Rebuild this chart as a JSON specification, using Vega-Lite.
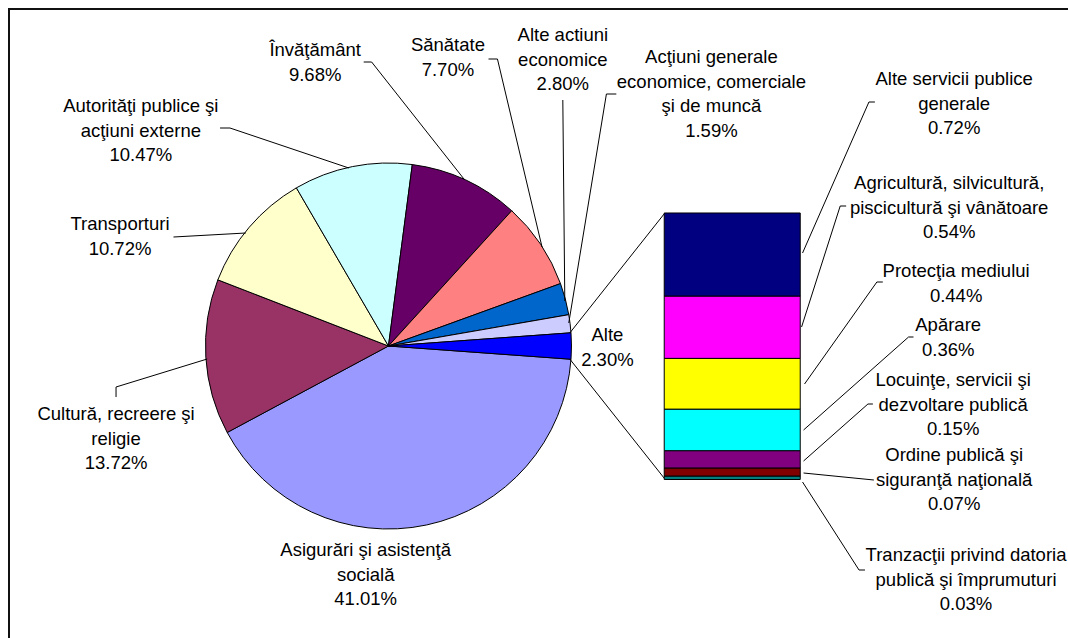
{
  "$schema": "https://vega.github.io/schema/vega-lite/v6.json",
  "width": 1070,
  "height": 640,
  "padding": {"left": 9, "top": 9, "right": 0, "bottom": 0},
  "background": "white",
  "config": {
    "view": {"stroke": "#111111", "strokeWidth": 2},
    "text": {"font": "Liberation Sans", "fontSize": 18.5, "lineHeight": 24.5, "lineBreak": "\n", "color": "#000000", "align": "center", "baseline": "middle"},
    "rule": {"color": "#000000", "strokeWidth": 1}
  },
  "datasets": {
    "pie": [
      {"i": 1, "cat": "Asigurări şi asistenţă\nsocială", "v": 41.01},
      {"i": 2, "cat": "Cultură, recreere şi\nreligie", "v": 13.72},
      {"i": 3, "cat": "Transporturi", "v": 10.72},
      {"i": 4, "cat": "Autorităţi publice şi\nacţiuni externe", "v": 10.47},
      {"i": 5, "cat": "Învăţământ", "v": 9.68},
      {"i": 6, "cat": "Sănătate", "v": 7.70},
      {"i": 7, "cat": "Alte actiuni\neconomice", "v": 2.80},
      {"i": 8, "cat": "Acţiuni generale\neconomice, comerciale\nşi de muncă", "v": 1.59},
      {"i": 9, "cat": "Alte", "v": 2.30}
    ],
    "bar": [
      {"i": 1, "cat": "Tranzacţii privind datoria\npublică şi împrumuturi", "v": 0.03},
      {"i": 2, "cat": "Ordine publică şi\nsiguranţă naţională", "v": 0.07},
      {"i": 3, "cat": "Locuinţe, servicii şi\ndezvoltare publică", "v": 0.15},
      {"i": 4, "cat": "Apărare", "v": 0.36},
      {"i": 5, "cat": "Protecţia mediului", "v": 0.44},
      {"i": 6, "cat": "Agricultură, silvicultură,\npiscicultură şi vânătoare", "v": 0.54},
      {"i": 7, "cat": "Alte servicii publice\ngenerale", "v": 0.72}
    ]
  },
  "resolve": {"scale": {"y": "independent", "color": "independent"}},
  "layer": [
    {
      "layer": [
        {
          "data": {"name": "pie"},
          "mark": {"type": "arc", "outerRadius": 183, "stroke": "#000000", "strokeWidth": 1},
          "encoding": {
            "theta": {"field": "v", "type": "quantitative", "stack": true, "scale": {"range": [1.6431, 7.9263]}},
            "order": {"field": "i", "type": "quantitative"},
            "color": {"field": "i", "type": "nominal", "legend": null, "scale": {"domain": [1, 2, 3, 4, 5, 6, 7, 8, 9], "range": ["#9999FF", "#993366", "#FFFFCC", "#CCFFFF", "#660066", "#FF8080", "#0066CC", "#CCCCFF", "#0000FF"]}},
            "x": {"datum": 387, "type": "quantitative", "scale": {"domain": [9, 1079], "nice": false, "zero": false}, "axis": null},
            "y": {"datum": 346, "type": "quantitative", "scale": {"domain": [9, 649], "nice": false, "zero": false, "reverse": true}, "axis": null}
          }
        },
        {"data": {"name": "pie"}, "transform": [{"filter": "datum.i == 1"}, {"calculate": "datum.cat + '\\n' + format(datum.v, '.2f') + '%'", "as": "label"}], "mark": {"type": "text"},
         "encoding": {"x": {"datum": 364, "type": "quantitative", "scale": {"domain": [9, 1079], "nice": false, "zero": false}, "axis": null}, "y": {"datum": 550, "type": "quantitative", "scale": {"domain": [9, 649], "nice": false, "zero": false, "reverse": true}, "axis": null}, "text": {"field": "label"}}},
        {"data": {"name": "pie"}, "transform": [{"filter": "datum.i == 2"}, {"calculate": "datum.cat + '\\n' + format(datum.v, '.2f') + '%'", "as": "label"}], "mark": {"type": "text"},
         "encoding": {"x": {"datum": 112, "type": "quantitative", "scale": {"domain": [9, 1079], "nice": false, "zero": false}, "axis": null}, "y": {"datum": 414, "type": "quantitative", "scale": {"domain": [9, 649], "nice": false, "zero": false, "reverse": true}, "axis": null}, "text": {"field": "label"}}},
        {"data": {"name": "pie"}, "transform": [{"filter": "datum.i == 3"}, {"calculate": "datum.cat + '\\n' + format(datum.v, '.2f') + '%'", "as": "label"}], "mark": {"type": "text"},
         "encoding": {"x": {"datum": 116, "type": "quantitative", "scale": {"domain": [9, 1079], "nice": false, "zero": false}, "axis": null}, "y": {"datum": 224, "type": "quantitative", "scale": {"domain": [9, 649], "nice": false, "zero": false, "reverse": true}, "axis": null}, "text": {"field": "label"}}},
        {"data": {"name": "pie"}, "transform": [{"filter": "datum.i == 4"}, {"calculate": "datum.cat + '\\n' + format(datum.v, '.2f') + '%'", "as": "label"}], "mark": {"type": "text"},
         "encoding": {"x": {"datum": 137, "type": "quantitative", "scale": {"domain": [9, 1079], "nice": false, "zero": false}, "axis": null}, "y": {"datum": 106, "type": "quantitative", "scale": {"domain": [9, 649], "nice": false, "zero": false, "reverse": true}, "axis": null}, "text": {"field": "label"}}},
        {"data": {"name": "pie"}, "transform": [{"filter": "datum.i == 5"}, {"calculate": "datum.cat + '\\n' + format(datum.v, '.2f') + '%'", "as": "label"}], "mark": {"type": "text"},
         "encoding": {"x": {"datum": 313, "type": "quantitative", "scale": {"domain": [9, 1079], "nice": false, "zero": false}, "axis": null}, "y": {"datum": 50, "type": "quantitative", "scale": {"domain": [9, 649], "nice": false, "zero": false, "reverse": true}, "axis": null}, "text": {"field": "label"}}},
        {"data": {"name": "pie"}, "transform": [{"filter": "datum.i == 6"}, {"calculate": "datum.cat + '\\n' + format(datum.v, '.2f') + '%'", "as": "label"}], "mark": {"type": "text"},
         "encoding": {"x": {"datum": 447, "type": "quantitative", "scale": {"domain": [9, 1079], "nice": false, "zero": false}, "axis": null}, "y": {"datum": 45, "type": "quantitative", "scale": {"domain": [9, 649], "nice": false, "zero": false, "reverse": true}, "axis": null}, "text": {"field": "label"}}},
        {"data": {"name": "pie"}, "transform": [{"filter": "datum.i == 7"}, {"calculate": "datum.cat + '\\n' + format(datum.v, '.2f') + '%'", "as": "label"}], "mark": {"type": "text"},
         "encoding": {"x": {"datum": 563, "type": "quantitative", "scale": {"domain": [9, 1079], "nice": false, "zero": false}, "axis": null}, "y": {"datum": 35, "type": "quantitative", "scale": {"domain": [9, 649], "nice": false, "zero": false, "reverse": true}, "axis": null}, "text": {"field": "label"}}},
        {"data": {"name": "pie"}, "transform": [{"filter": "datum.i == 8"}, {"calculate": "datum.cat + '\\n' + format(datum.v, '.2f') + '%'", "as": "label"}], "mark": {"type": "text"},
         "encoding": {"x": {"datum": 713, "type": "quantitative", "scale": {"domain": [9, 1079], "nice": false, "zero": false}, "axis": null}, "y": {"datum": 57, "type": "quantitative", "scale": {"domain": [9, 649], "nice": false, "zero": false, "reverse": true}, "axis": null}, "text": {"field": "label"}}},
        {"data": {"name": "pie"}, "transform": [{"filter": "datum.i == 9"}, {"calculate": "datum.cat + '\\n' + format(datum.v, '.2f') + '%'", "as": "label"}], "mark": {"type": "text"},
         "encoding": {"x": {"datum": 608, "type": "quantitative", "scale": {"domain": [9, 1079], "nice": false, "zero": false}, "axis": null}, "y": {"datum": 335, "type": "quantitative", "scale": {"domain": [9, 649], "nice": false, "zero": false, "reverse": true}, "axis": null}, "text": {"field": "label"}}},

        {"data": {"name": "bar"}, "transform": [{"filter": "datum.i == 7"}, {"calculate": "datum.cat + '\\n' + format(datum.v, '.2f') + '%'", "as": "label"}], "mark": {"type": "text"},
         "encoding": {"x": {"datum": 958, "type": "quantitative", "scale": {"domain": [9, 1079], "nice": false, "zero": false}, "axis": null}, "y": {"datum": 79, "type": "quantitative", "scale": {"domain": [9, 649], "nice": false, "zero": false, "reverse": true}, "axis": null}, "text": {"field": "label"}}},
        {"data": {"name": "bar"}, "transform": [{"filter": "datum.i == 6"}, {"calculate": "datum.cat + '\\n' + format(datum.v, '.2f') + '%'", "as": "label"}], "mark": {"type": "text"},
         "encoding": {"x": {"datum": 953, "type": "quantitative", "scale": {"domain": [9, 1079], "nice": false, "zero": false}, "axis": null}, "y": {"datum": 183, "type": "quantitative", "scale": {"domain": [9, 649], "nice": false, "zero": false, "reverse": true}, "axis": null}, "text": {"field": "label"}}},
        {"data": {"name": "bar"}, "transform": [{"filter": "datum.i == 5"}, {"calculate": "datum.cat + '\\n' + format(datum.v, '.2f') + '%'", "as": "label"}], "mark": {"type": "text"},
         "encoding": {"x": {"datum": 960, "type": "quantitative", "scale": {"domain": [9, 1079], "nice": false, "zero": false}, "axis": null}, "y": {"datum": 271, "type": "quantitative", "scale": {"domain": [9, 649], "nice": false, "zero": false, "reverse": true}, "axis": null}, "text": {"field": "label"}}},
        {"data": {"name": "bar"}, "transform": [{"filter": "datum.i == 4"}, {"calculate": "datum.cat + '\\n' + format(datum.v, '.2f') + '%'", "as": "label"}], "mark": {"type": "text"},
         "encoding": {"x": {"datum": 952, "type": "quantitative", "scale": {"domain": [9, 1079], "nice": false, "zero": false}, "axis": null}, "y": {"datum": 325, "type": "quantitative", "scale": {"domain": [9, 649], "nice": false, "zero": false, "reverse": true}, "axis": null}, "text": {"field": "label"}}},
        {"data": {"name": "bar"}, "transform": [{"filter": "datum.i == 3"}, {"calculate": "datum.cat + '\\n' + format(datum.v, '.2f') + '%'", "as": "label"}], "mark": {"type": "text"},
         "encoding": {"x": {"datum": 957, "type": "quantitative", "scale": {"domain": [9, 1079], "nice": false, "zero": false}, "axis": null}, "y": {"datum": 380, "type": "quantitative", "scale": {"domain": [9, 649], "nice": false, "zero": false, "reverse": true}, "axis": null}, "text": {"field": "label"}}},
        {"data": {"name": "bar"}, "transform": [{"filter": "datum.i == 2"}, {"calculate": "datum.cat + '\\n' + format(datum.v, '.2f') + '%'", "as": "label"}], "mark": {"type": "text"},
         "encoding": {"x": {"datum": 958, "type": "quantitative", "scale": {"domain": [9, 1079], "nice": false, "zero": false}, "axis": null}, "y": {"datum": 455, "type": "quantitative", "scale": {"domain": [9, 649], "nice": false, "zero": false, "reverse": true}, "axis": null}, "text": {"field": "label"}}},
        {"data": {"name": "bar"}, "transform": [{"filter": "datum.i == 1"}, {"calculate": "datum.cat + '\\n' + format(datum.v, '.2f') + '%'", "as": "label"}], "mark": {"type": "text"},
         "encoding": {"x": {"datum": 970, "type": "quantitative", "scale": {"domain": [9, 1079], "nice": false, "zero": false}, "axis": null}, "y": {"datum": 555, "type": "quantitative", "scale": {"domain": [9, 649], "nice": false, "zero": false, "reverse": true}, "axis": null}, "text": {"field": "label"}}},

        {"data": {"name": "pie"}, "transform": [{"filter": "datum.i == 5"}], "mark": {"type": "rule"}, "encoding": {"x": {"datum": 362, "type": "quantitative", "scale": {"domain": [9, 1079], "nice": false, "zero": false}, "axis": null}, "y": {"datum": 62, "type": "quantitative", "scale": {"domain": [9, 649], "nice": false, "zero": false, "reverse": true}, "axis": null}, "x2": {"datum": 370}, "y2": {"datum": 62}}},
        {"data": {"name": "pie"}, "transform": [{"filter": "datum.i == 5"}], "mark": {"type": "rule"}, "encoding": {"x": {"datum": 370, "type": "quantitative", "scale": {"domain": [9, 1079], "nice": false, "zero": false}, "axis": null}, "y": {"datum": 62, "type": "quantitative", "scale": {"domain": [9, 649], "nice": false, "zero": false, "reverse": true}, "axis": null}, "x2": {"datum": 464}, "y2": {"datum": 180}}},
        {"data": {"name": "pie"}, "transform": [{"filter": "datum.i == 4"}], "mark": {"type": "rule"}, "encoding": {"x": {"datum": 217, "type": "quantitative", "scale": {"domain": [9, 1079], "nice": false, "zero": false}, "axis": null}, "y": {"datum": 128, "type": "quantitative", "scale": {"domain": [9, 649], "nice": false, "zero": false, "reverse": true}, "axis": null}, "x2": {"datum": 227}, "y2": {"datum": 128}}},
        {"data": {"name": "pie"}, "transform": [{"filter": "datum.i == 4"}], "mark": {"type": "rule"}, "encoding": {"x": {"datum": 227, "type": "quantitative", "scale": {"domain": [9, 1079], "nice": false, "zero": false}, "axis": null}, "y": {"datum": 128, "type": "quantitative", "scale": {"domain": [9, 649], "nice": false, "zero": false, "reverse": true}, "axis": null}, "x2": {"datum": 347}, "y2": {"datum": 168}}},
        {"data": {"name": "pie"}, "transform": [{"filter": "datum.i == 3"}], "mark": {"type": "rule"}, "encoding": {"x": {"datum": 170, "type": "quantitative", "scale": {"domain": [9, 1079], "nice": false, "zero": false}, "axis": null}, "y": {"datum": 237, "type": "quantitative", "scale": {"domain": [9, 649], "nice": false, "zero": false, "reverse": true}, "axis": null}, "x2": {"datum": 243}, "y2": {"datum": 233}}},
        {"data": {"name": "pie"}, "transform": [{"filter": "datum.i == 2"}], "mark": {"type": "rule"}, "encoding": {"x": {"datum": 112, "type": "quantitative", "scale": {"domain": [9, 1079], "nice": false, "zero": false}, "axis": null}, "y": {"datum": 397, "type": "quantitative", "scale": {"domain": [9, 649], "nice": false, "zero": false, "reverse": true}, "axis": null}, "x2": {"datum": 112}, "y2": {"datum": 387}}},
        {"data": {"name": "pie"}, "transform": [{"filter": "datum.i == 2"}], "mark": {"type": "rule"}, "encoding": {"x": {"datum": 112, "type": "quantitative", "scale": {"domain": [9, 1079], "nice": false, "zero": false}, "axis": null}, "y": {"datum": 387, "type": "quantitative", "scale": {"domain": [9, 649], "nice": false, "zero": false, "reverse": true}, "axis": null}, "x2": {"datum": 204}, "y2": {"datum": 359}}},
        {"data": {"name": "pie"}, "transform": [{"filter": "datum.i == 6"}], "mark": {"type": "rule"}, "encoding": {"x": {"datum": 488, "type": "quantitative", "scale": {"domain": [9, 1079], "nice": false, "zero": false}, "axis": null}, "y": {"datum": 59, "type": "quantitative", "scale": {"domain": [9, 649], "nice": false, "zero": false, "reverse": true}, "axis": null}, "x2": {"datum": 497}, "y2": {"datum": 59}}},
        {"data": {"name": "pie"}, "transform": [{"filter": "datum.i == 6"}], "mark": {"type": "rule"}, "encoding": {"x": {"datum": 497, "type": "quantitative", "scale": {"domain": [9, 1079], "nice": false, "zero": false}, "axis": null}, "y": {"datum": 59, "type": "quantitative", "scale": {"domain": [9, 649], "nice": false, "zero": false, "reverse": true}, "axis": null}, "x2": {"datum": 542}, "y2": {"datum": 247}}},
        {"data": {"name": "pie"}, "transform": [{"filter": "datum.i == 7"}], "mark": {"type": "rule"}, "encoding": {"x": {"datum": 563, "type": "quantitative", "scale": {"domain": [9, 1079], "nice": false, "zero": false}, "axis": null}, "y": {"datum": 100, "type": "quantitative", "scale": {"domain": [9, 649], "nice": false, "zero": false, "reverse": true}, "axis": null}, "x2": {"datum": 565}, "y2": {"datum": 301}}},
        {"data": {"name": "pie"}, "transform": [{"filter": "datum.i == 8"}], "mark": {"type": "rule"}, "encoding": {"x": {"datum": 617, "type": "quantitative", "scale": {"domain": [9, 1079], "nice": false, "zero": false}, "axis": null}, "y": {"datum": 94, "type": "quantitative", "scale": {"domain": [9, 649], "nice": false, "zero": false, "reverse": true}, "axis": null}, "x2": {"datum": 607}, "y2": {"datum": 94}}},
        {"data": {"name": "pie"}, "transform": [{"filter": "datum.i == 8"}], "mark": {"type": "rule"}, "encoding": {"x": {"datum": 607, "type": "quantitative", "scale": {"domain": [9, 1079], "nice": false, "zero": false}, "axis": null}, "y": {"datum": 94, "type": "quantitative", "scale": {"domain": [9, 649], "nice": false, "zero": false, "reverse": true}, "axis": null}, "x2": {"datum": 569}, "y2": {"datum": 323}}},
        {"data": {"name": "pie"}, "transform": [{"filter": "datum.i == 9"}], "mark": {"type": "rule"}, "encoding": {"x": {"datum": 570, "type": "quantitative", "scale": {"domain": [9, 1079], "nice": false, "zero": false}, "axis": null}, "y": {"datum": 333, "type": "quantitative", "scale": {"domain": [9, 649], "nice": false, "zero": false, "reverse": true}, "axis": null}, "x2": {"datum": 666}, "y2": {"datum": 213}}},
        {"data": {"name": "pie"}, "transform": [{"filter": "datum.i == 9"}], "mark": {"type": "rule"}, "encoding": {"x": {"datum": 570, "type": "quantitative", "scale": {"domain": [9, 1079], "nice": false, "zero": false}, "axis": null}, "y": {"datum": 359, "type": "quantitative", "scale": {"domain": [9, 649], "nice": false, "zero": false, "reverse": true}, "axis": null}, "x2": {"datum": 666}, "y2": {"datum": 479}}},

        {"data": {"name": "bar"}, "transform": [{"filter": "datum.i == 7"}], "mark": {"type": "rule"}, "encoding": {"x": {"datum": 872, "type": "quantitative", "scale": {"domain": [9, 1079], "nice": false, "zero": false}, "axis": null}, "y": {"datum": 102, "type": "quantitative", "scale": {"domain": [9, 649], "nice": false, "zero": false, "reverse": true}, "axis": null}, "x2": {"datum": 878}, "y2": {"datum": 102}}},
        {"data": {"name": "bar"}, "transform": [{"filter": "datum.i == 7"}], "mark": {"type": "rule"}, "encoding": {"x": {"datum": 872, "type": "quantitative", "scale": {"domain": [9, 1079], "nice": false, "zero": false}, "axis": null}, "y": {"datum": 102, "type": "quantitative", "scale": {"domain": [9, 649], "nice": false, "zero": false, "reverse": true}, "axis": null}, "x2": {"datum": 805}, "y2": {"datum": 253}}},
        {"data": {"name": "bar"}, "transform": [{"filter": "datum.i == 6"}], "mark": {"type": "rule"}, "encoding": {"x": {"datum": 843, "type": "quantitative", "scale": {"domain": [9, 1079], "nice": false, "zero": false}, "axis": null}, "y": {"datum": 206, "type": "quantitative", "scale": {"domain": [9, 649], "nice": false, "zero": false, "reverse": true}, "axis": null}, "x2": {"datum": 849}, "y2": {"datum": 206}}},
        {"data": {"name": "bar"}, "transform": [{"filter": "datum.i == 6"}], "mark": {"type": "rule"}, "encoding": {"x": {"datum": 843, "type": "quantitative", "scale": {"domain": [9, 1079], "nice": false, "zero": false}, "axis": null}, "y": {"datum": 206, "type": "quantitative", "scale": {"domain": [9, 649], "nice": false, "zero": false, "reverse": true}, "axis": null}, "x2": {"datum": 804}, "y2": {"datum": 327}}},
        {"data": {"name": "bar"}, "transform": [{"filter": "datum.i == 5"}], "mark": {"type": "rule"}, "encoding": {"x": {"datum": 880, "type": "quantitative", "scale": {"domain": [9, 1079], "nice": false, "zero": false}, "axis": null}, "y": {"datum": 282, "type": "quantitative", "scale": {"domain": [9, 649], "nice": false, "zero": false, "reverse": true}, "axis": null}, "x2": {"datum": 886}, "y2": {"datum": 282}}},
        {"data": {"name": "bar"}, "transform": [{"filter": "datum.i == 5"}], "mark": {"type": "rule"}, "encoding": {"x": {"datum": 880, "type": "quantitative", "scale": {"domain": [9, 1079], "nice": false, "zero": false}, "axis": null}, "y": {"datum": 282, "type": "quantitative", "scale": {"domain": [9, 649], "nice": false, "zero": false, "reverse": true}, "axis": null}, "x2": {"datum": 807}, "y2": {"datum": 384}}},
        {"data": {"name": "bar"}, "transform": [{"filter": "datum.i == 4"}], "mark": {"type": "rule"}, "encoding": {"x": {"datum": 912, "type": "quantitative", "scale": {"domain": [9, 1079], "nice": false, "zero": false}, "axis": null}, "y": {"datum": 337, "type": "quantitative", "scale": {"domain": [9, 649], "nice": false, "zero": false, "reverse": true}, "axis": null}, "x2": {"datum": 917}, "y2": {"datum": 337}}},
        {"data": {"name": "bar"}, "transform": [{"filter": "datum.i == 4"}], "mark": {"type": "rule"}, "encoding": {"x": {"datum": 912, "type": "quantitative", "scale": {"domain": [9, 1079], "nice": false, "zero": false}, "axis": null}, "y": {"datum": 337, "type": "quantitative", "scale": {"domain": [9, 649], "nice": false, "zero": false, "reverse": true}, "axis": null}, "x2": {"datum": 806}, "y2": {"datum": 430}}},
        {"data": {"name": "bar"}, "transform": [{"filter": "datum.i == 3"}], "mark": {"type": "rule"}, "encoding": {"x": {"datum": 871, "type": "quantitative", "scale": {"domain": [9, 1079], "nice": false, "zero": false}, "axis": null}, "y": {"datum": 404, "type": "quantitative", "scale": {"domain": [9, 649], "nice": false, "zero": false, "reverse": true}, "axis": null}, "x2": {"datum": 876}, "y2": {"datum": 404}}},
        {"data": {"name": "bar"}, "transform": [{"filter": "datum.i == 3"}], "mark": {"type": "rule"}, "encoding": {"x": {"datum": 871, "type": "quantitative", "scale": {"domain": [9, 1079], "nice": false, "zero": false}, "axis": null}, "y": {"datum": 404, "type": "quantitative", "scale": {"domain": [9, 649], "nice": false, "zero": false, "reverse": true}, "axis": null}, "x2": {"datum": 806}, "y2": {"datum": 461}}},
        {"data": {"name": "bar"}, "transform": [{"filter": "datum.i == 2"}], "mark": {"type": "rule"}, "encoding": {"x": {"datum": 806, "type": "quantitative", "scale": {"domain": [9, 1079], "nice": false, "zero": false}, "axis": null}, "y": {"datum": 473, "type": "quantitative", "scale": {"domain": [9, 649], "nice": false, "zero": false, "reverse": true}, "axis": null}, "x2": {"datum": 877}, "y2": {"datum": 480}}},
        {"data": {"name": "bar"}, "transform": [{"filter": "datum.i == 1"}], "mark": {"type": "rule"}, "encoding": {"x": {"datum": 805, "type": "quantitative", "scale": {"domain": [9, 1079], "nice": false, "zero": false}, "axis": null}, "y": {"datum": 482, "type": "quantitative", "scale": {"domain": [9, 649], "nice": false, "zero": false, "reverse": true}, "axis": null}, "x2": {"datum": 862}, "y2": {"datum": 570}}},
        {"data": {"name": "bar"}, "transform": [{"filter": "datum.i == 1"}], "mark": {"type": "rule"}, "encoding": {"x": {"datum": 862, "type": "quantitative", "scale": {"domain": [9, 1079], "nice": false, "zero": false}, "axis": null}, "y": {"datum": 570, "type": "quantitative", "scale": {"domain": [9, 649], "nice": false, "zero": false, "reverse": true}, "axis": null}, "x2": {"datum": 868}, "y2": {"datum": 570}}}
      ]
    },
    {
      "data": {"name": "bar"},
      "mark": {"type": "bar", "width": 136, "stroke": "#000000", "strokeWidth": 1},
      "encoding": {
        "x": {"datum": 734, "type": "quantitative", "scale": {"domain": [9, 1079], "nice": false, "zero": false}, "axis": null},
        "y": {"field": "v", "type": "quantitative", "stack": "zero", "scale": {"domain": [-1.4692, 4.0782], "nice": false, "zero": false}, "axis": null},
        "order": {"field": "i", "type": "quantitative"},
        "color": {"field": "i", "type": "nominal", "legend": null, "scale": {"domain": [1, 2, 3, 4, 5, 6, 7], "range": ["#008080", "#800000", "#800080", "#00FFFF", "#FFFF00", "#FF00FF", "#000080"]}}
      }
    }
  ]
}
